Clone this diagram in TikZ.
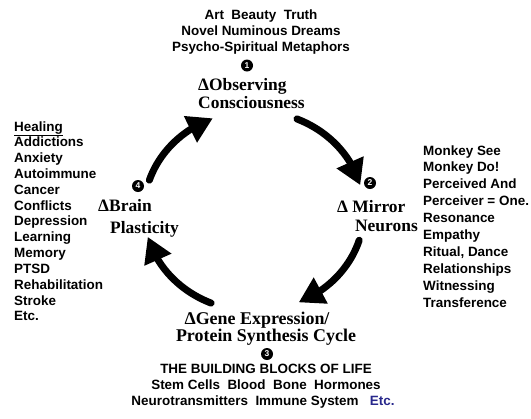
\documentclass[tikz,border=0pt]{standalone}
\usepackage{fontspec}
\setmainfont{Liberation Serif}
\newfontfamily\arialf{Liberation Sans}
\usetikzlibrary{arrows.meta,bending}
\definecolor{inkblue}{RGB}{40,40,140}
\begin{document}
\begin{tikzpicture}[x=1bp,y=-1bp,
  sanst/.style={font=\arialf\bfseries\fontsize{13.5}{15}\selectfont, inner sep=0pt},
  sert/.style={font=\bfseries\fontsize{17.5}{19}\selectfont, inner sep=0pt},
  numdot/.style={circle, fill=black, minimum size=12bp, inner sep=0pt, text=white,
    font=\arialf\bfseries\fontsize{8.5}{8.5}\selectfont},
  cyc/.style={line width=7bp, line cap=round, -{Triangle[length=25bp,width=28bp]}}]
\useasboundingbox (0,0) rectangle (531,418);
\fill[white] (0,0) rectangle (531,418);

% top block
\node[sanst, anchor=base] (t1) at (261,19.5) {Art\ \ Beauty\ \ Truth};
\node[sanst, anchor=base] (t2) at (261,35.5) {Novel Numinous Dreams};
\node[sanst, anchor=base] (t3) at (261,51) {Psycho-Spiritual Metaphors};
\node[numdot] (n1) at (247,65.5) {1};
\node[sert, anchor=base west] (obs1) at (198,90) {ΔObserving};
\node[sert, anchor=base west] (obs2) at (198,108.5) {Consciousness};

% right
\node[numdot] (n2) at (370,183) {2};
\node[sert, anchor=base west] (mir1) at (337,212) {Δ Mirror};
\node[sert, anchor=base east] (mir2) at (418,231) {Neurons};
\foreach \t [count=\i from 0] in {Monkey See, Monkey Do!, Perceived And, {Perceiver = One.}, Resonance, Empathy, {Ritual, Dance}, Relationships, Witnessing, Transference}
  \node[sanst, anchor=base west] (m\i) at (423,155+16.9*\i) {\t};

% left
\node[sanst, anchor=base west] (hh) at (14,131) {\underline{Healing}};
\foreach \t [count=\i] in {Addictions, Anxiety, Autoimmune, Cancer, Conflicts, Depression, Learning, Memory, PTSD, Rehabilitation, Stroke, Etc.}
  \node[sanst, anchor=base west] (h\i) at (14,131+15.83*\i) {\t};
\node[numdot] (n4) at (138,186) {4};
\node[sert, anchor=base west] (br1) at (98,211.5) {ΔBrain};
\node[sert, anchor=base west] (br2) at (110,233) {Plasticity};

% bottom
\node[sert, anchor=base, font=\bfseries\fontsize{18}{19}\selectfont] (g1) at (257,324) {ΔGene Expression/};
\node[sert, anchor=base, font=\bfseries\fontsize{18}{19}\selectfont] (g2) at (266,341) {Protein Synthesis Cycle};
\node[numdot] (n3) at (267,354) {3};
\node[sanst, anchor=base] (b1) at (266,373) {THE BUILDING BLOCKS OF LIFE};
\node[sanst, anchor=base] (b2) at (266,389) {Stem Cells\ \ Blood\ \ Bone\ \ Hormones};
\node[sanst, anchor=base] (b3) at (263,405) {Neurotransmitters\ \ Immune System\ \ \ \textcolor{inkblue}{Etc.}};

% cycle arrows
\coordinate (a1) at ([shift={(-67:110 and 100)}]254,211);
\coordinate (a2) at ([shift={(17:110 and 100)}]254,211);
\coordinate (a3) at ([shift={(113:110 and 100)}]254,211);
\coordinate (a4) at ([shift={(198:110 and 100)}]254,211);
\draw[cyc] (a1) arc[start angle=-67, end angle=-15, x radius=110, y radius=100];
\draw[cyc] (a2) arc[start angle=17, end angle=66, x radius=110, y radius=100];
\draw[cyc] (a3) arc[start angle=113, end angle=165, x radius=110, y radius=100];
\draw[cyc] (a4) arc[start angle=198, end angle=248, x radius=110, y radius=100];
\end{tikzpicture}
\end{document}
